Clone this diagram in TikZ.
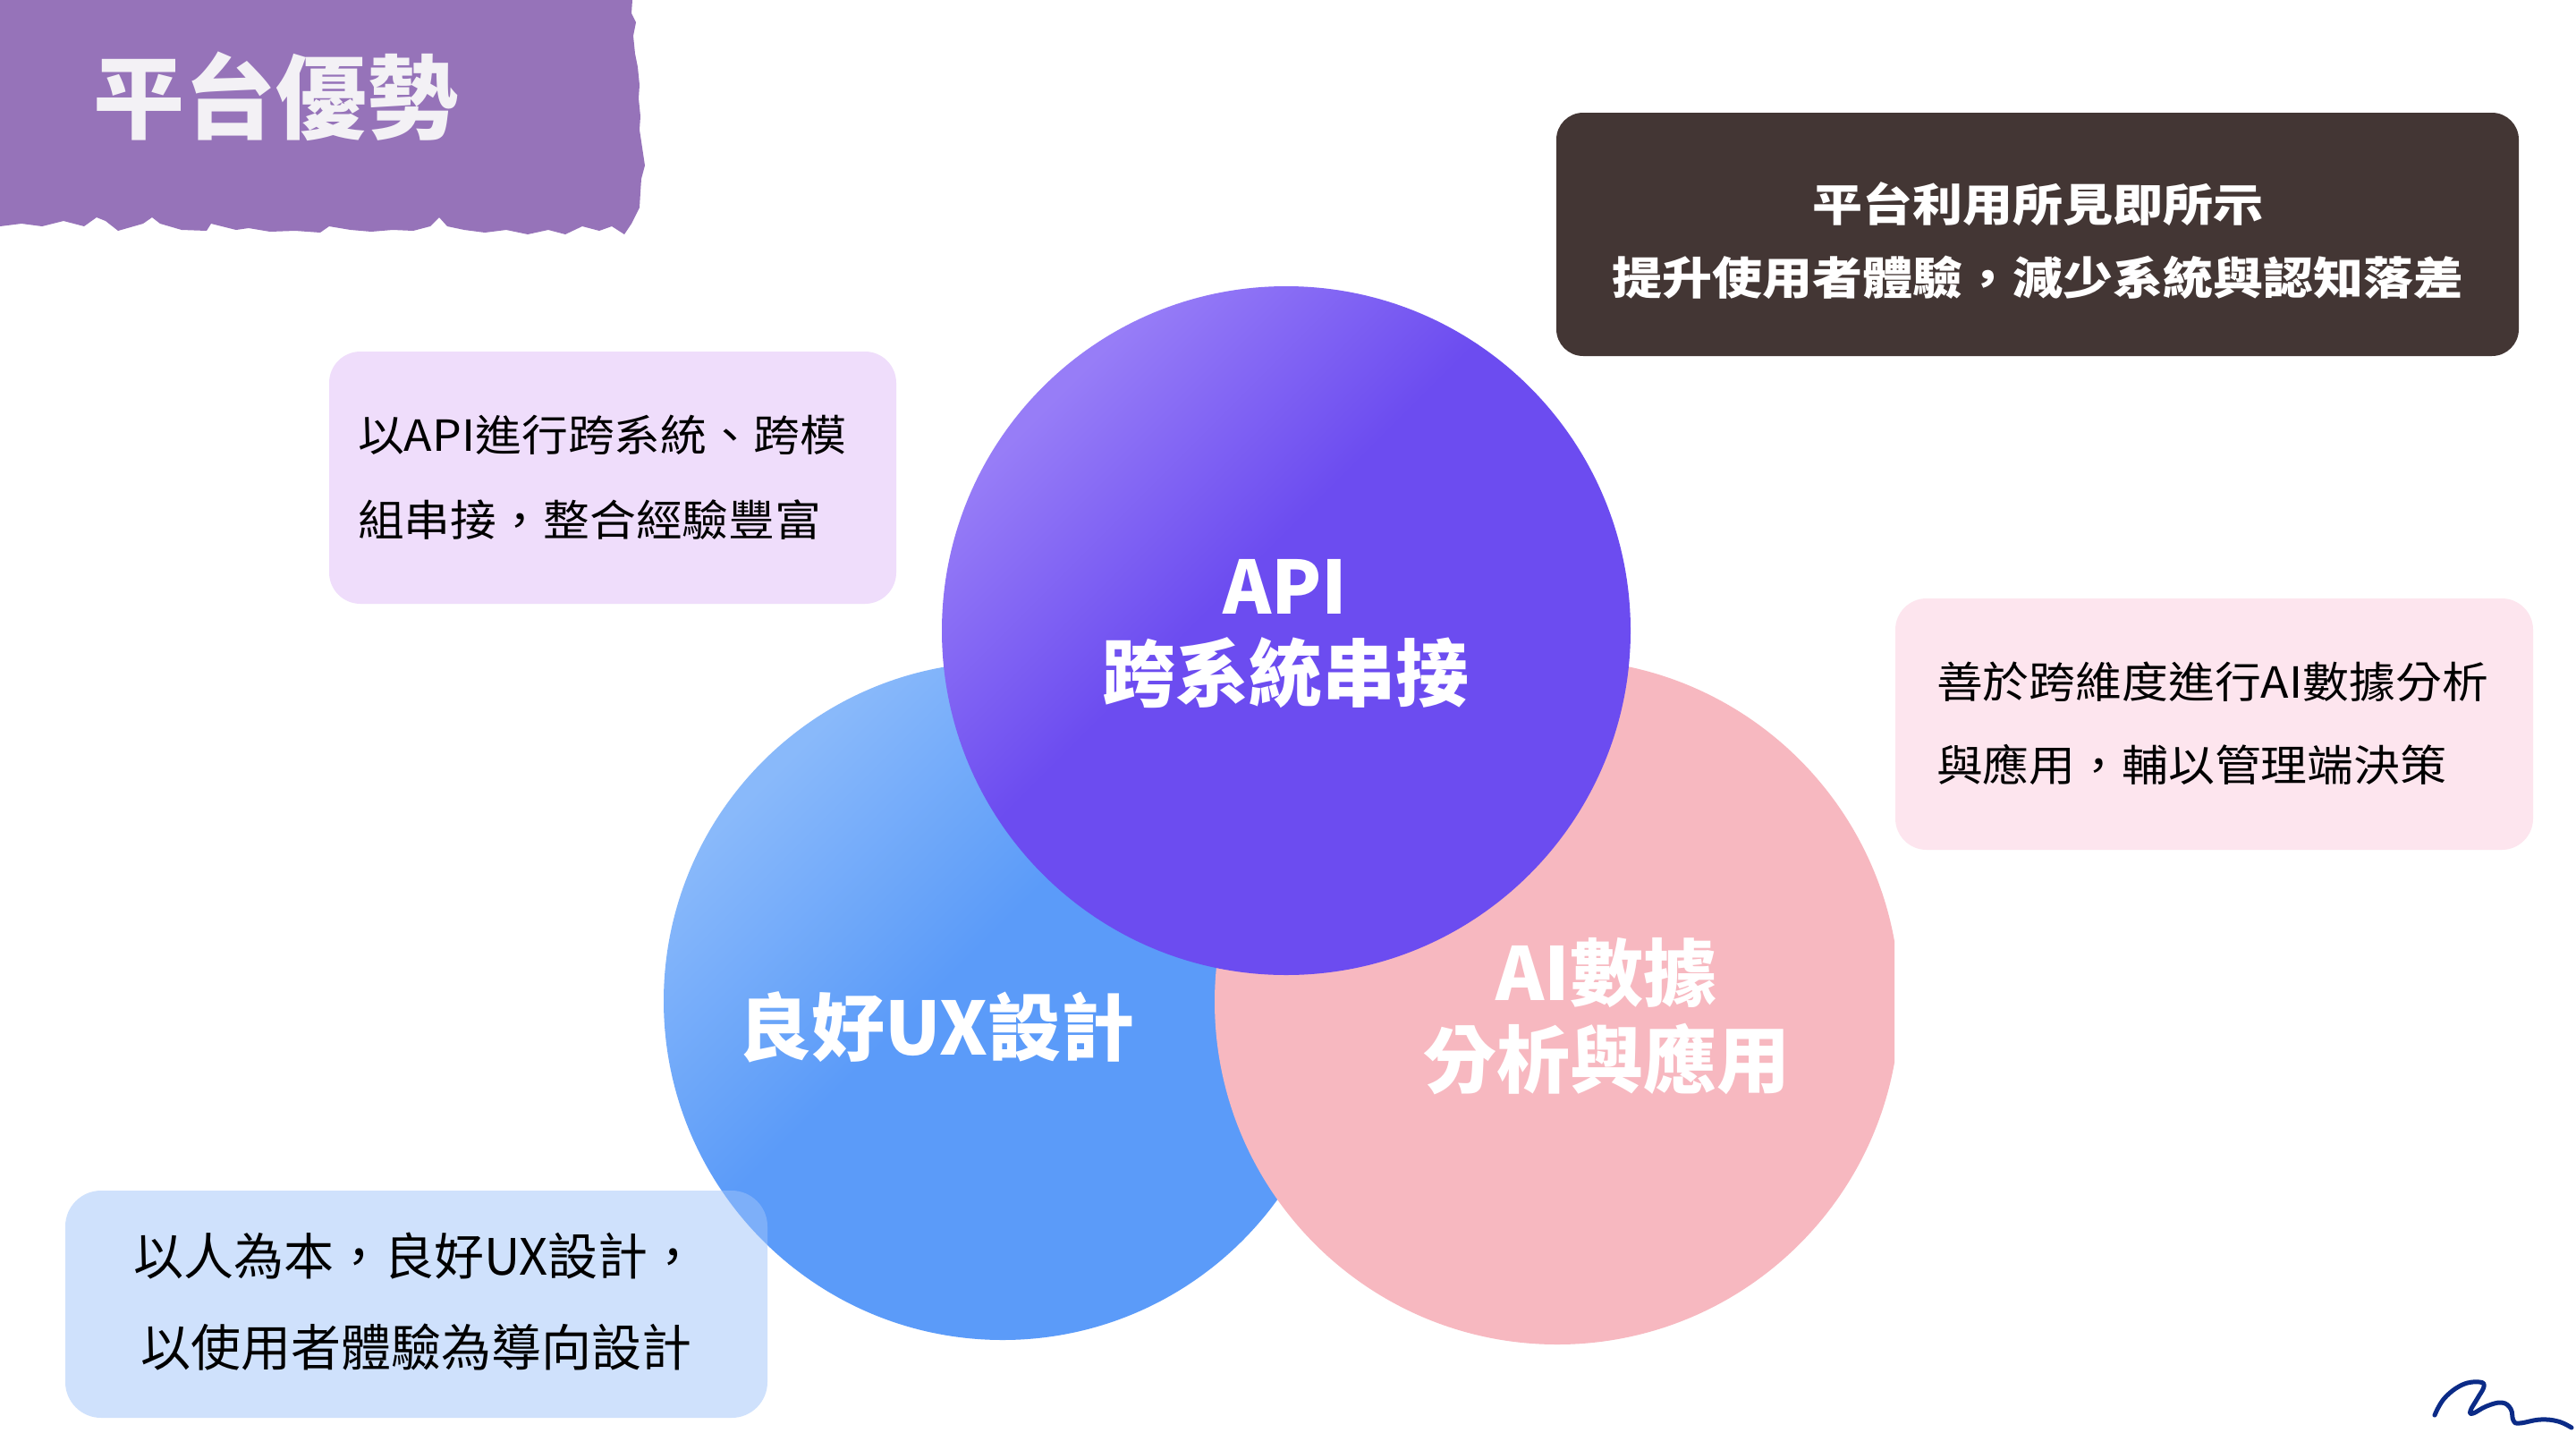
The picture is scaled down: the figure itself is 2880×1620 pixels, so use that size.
\documentclass[tikz,border=0pt]{standalone}
\usepackage{fontspec}
\setmainfont{Noto Sans}
\newfontfamily\tcfont{Noto Sans CJK TC}
\newfontfamily\tcreg[FakeStretch=1.08]{Noto Sans CJK TC}
\newfontfamily\tcwide[FakeStretch=1.12]{Noto Sans CJK TC}
\definecolor{banner}{HTML}{9673B9}
\definecolor{titletxt}{HTML}{F3F1F5}
\definecolor{darkbox}{HTML}{433634}
\definecolor{lavbox}{HTML}{EFDDFB}
\definecolor{pinkbox}{HTML}{FDE5EE}
\definecolor{bluebox}{HTML}{A0C4FA}
\definecolor{purpL}{HTML}{977DF7}
\definecolor{purpD}{HTML}{6C4CF0}
\definecolor{blueL}{HTML}{89B9FA}
\definecolor{blueD}{HTML}{5B9BF9}
\definecolor{pinkC}{HTML}{F7B8C0}
\definecolor{logo}{HTML}{0B2B87}
\pgfdeclarehorizontalshading{purpshade}{100bp}{color(0bp)=(purpL); color(26bp)=(purpL); color(45bp)=(purpD); color(100bp)=(purpD)}
\pgfdeclarehorizontalshading{blueshade}{100bp}{color(0bp)=(blueL); color(26bp)=(blueL); color(46bp)=(blueD); color(100bp)=(blueD)}
\tikzset{
  txt/.style={inner sep=0pt, outer sep=0pt},
  circlabel/.style={txt, text=white, align=center, font=\tcfont\bfseries\fontsize{82}{97}\selectfont},
  boxtext/.style={txt, text=black, font=\tcreg\fontsize{48}{94}\selectfont},
}
\begin{document}
\begin{tikzpicture}[x=1pt,y=1pt]
\useasboundingbox (0,0) rectangle (2880,-1620);
\fill[white] (0,0) rectangle (2880,-1620);
% title banner
\fill[banner] (0,0) -- (707,0) -- (706,-15) -- (711,-25) -- (708,-40) -- (710,-60) -- (713,-75) -- (715,-95) -- (714,-110) -- (716,-130) -- (715,-145) -- (718,-165) -- (721,-185) -- (717,-200) -- (716,-215) -- (715,-232) -- (706,-250) -- (698,-262) -- (684,-253) -- (670,-258) -- (651,-253) -- (632,-262) -- (613,-257) -- (590,-262) -- (566,-257) -- (542,-260) -- (519,-257) -- (500,-253) -- (491,-243) -- (481,-253) -- (462,-258) -- (439,-257) -- (415,-259) -- (392,-257) -- (368,-253) -- (358,-260) -- (330,-258) -- (302,-259) -- (278,-255) -- (264,-257) -- (236,-250) -- (231,-258) -- (203,-257) -- (179,-250) -- (170,-243) -- (160,-250) -- (132,-258) -- (118,-247) -- (108,-243) -- (94,-253) -- (71,-247) -- (47,-253) -- (24,-250) -- (0,-253) -- cycle;
\node[txt, text=titletxt, font=\tcfont\bfseries\fontsize{102}{110}\selectfont] (title) at (308,-108) {平台優勢};
% circles
\shade[shading=blueshade, shading angle=-45] (1121,-1119) circle (379);
\begin{scope}
  \clip (0,0) rectangle (2118,-1620);
  \fill[pinkC] (1741,-1120) circle (383);
\end{scope}
\shade[shading=purpshade, shading angle=-45] (1438,-705) circle (385);
\node[circlabel] (apilbl) at (1437,-709) {API\\跨系統串接};
\node[circlabel] (uxlbl) at (1047,-1148) {良好UX設計};
\node[circlabel] (ailbl) at (1796,-1136) {AI數據\\分析與應用};
% dark box
\fill[darkbox, rounded corners=30] (1740,-126) rectangle (2816,-398);
\node[txt, text=white, align=center, font=\tcwide\bfseries\fontsize{50}{82}\selectfont] (topmsg) at (2278,-269) {平台利用所見即所示\\提升使用者體驗，減少系統與認知落差};
% lavender box
\fill[lavbox, rounded corners=35] (368,-393) rectangle (1002,-675);
\node[boxtext, anchor=west, align=left, font=\tcreg\fontsize{48}{95}\selectfont] (apitxt) at (400,-533.5) {以API進行跨系統、跨模\\組串接，整合經驗豐富};
% pink box
\fill[pinkbox, rounded corners=35] (2119,-669) rectangle (2832,-950);
\node[boxtext, anchor=west, align=left, font=\tcreg\fontsize{48}{93.5}\selectfont] (aitxt) at (2165,-808.5) {善於跨維度進行AI數據分析\\與應用，輔以管理端決策};
% blue box
\fill[bluebox, fill opacity=0.5, rounded corners=40] (73,-1331) rectangle (858,-1585);
\node[boxtext, align=center, font=\tcfont\fontsize{56}{102}\selectfont] (uxtxt) at (465,-1455) {以人為本，良好UX設計，\\以使用者體驗為導向設計};
% logo
\draw[logo, line width=5, line cap=round, line join=round] plot[smooth, tension=0.7] coordinates {(2722,-1582) (2733,-1563) (2753,-1548) (2772,-1545) (2777,-1550) (2770,-1563) (2762,-1577) (2765,-1580) (2780,-1572) (2797,-1568) (2807,-1575) (2810,-1588) (2817,-1591) (2840,-1587) (2860,-1589) (2875,-1596)};
\end{tikzpicture}
\end{document}
